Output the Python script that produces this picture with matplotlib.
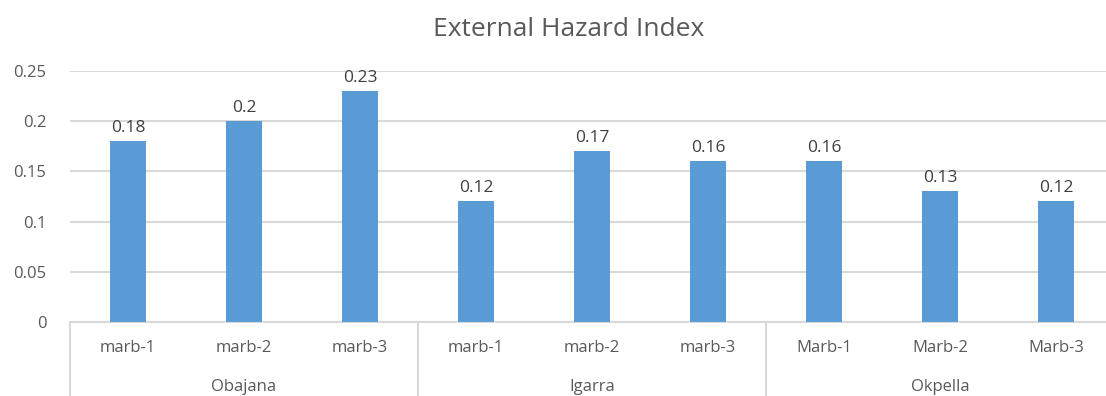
import matplotlib
matplotlib.use("Agg")
import matplotlib.pyplot as plt
import numpy as np

# samples per site
sites = ["Obajana", "Igarra", "Okpella"]
samples = ["marb-1", "marb-2", "marb-3",
           "marb-1", "marb-2", "marb-3",
           "Marb-1", "Marb-2", "Marb-3"]
hex_values = [0.18, 0.2, 0.23, 0.12, 0.17, 0.16, 0.16, 0.13, 0.12]
value_labels = ["0.18", "0.2", "0.23", "0.12", "0.17", "0.16", "0.16", "0.13", "0.12"]

plt.rcParams['font.family'] = ['Open Sans', 'DejaVu Sans']
txt = "#595959"

fig = plt.figure(figsize=(11.06, 3.96), dpi=100)
# plot area runs a little past the right edge of the figure
ax = fig.add_axes([0.0633, 0.187, 0.944, 0.634])

x = np.arange(len(samples))
ax.bar(x, hex_values, width=0.31, color="#5B9BD5", zorder=3)
for xi, v, lab in zip(x, hex_values, value_labels):
    ax.text(xi, v + 0.005, lab, ha="center", va="bottom", fontsize=12.5, color="#404040")

ax.set_xlim(-0.5, len(samples) - 0.5)
ax.set_ylim(0, 0.25)
ax.set_yticks([0, 0.05, 0.1, 0.15, 0.2, 0.25])
ax.set_yticklabels(["0", "0.05", "0.1", "0.15", "0.2", "0.25"])
ax.yaxis.grid(True, color="#d9d9d9", linewidth=1.5, zorder=0)
ax.tick_params(axis="y", length=0, labelsize=12, labelcolor=txt, pad=17)
ax.set_xticks([])
for s in ["top", "right", "left"]:
    ax.spines[s].set_visible(False)
ax.spines["bottom"].set_color("#d9d9d9")
ax.spines["bottom"].set_linewidth(1.5)

# category labels and site group labels
trans = ax.get_xaxis_transform()
for xi, s in zip(x, samples):
    ax.text(xi, -0.105, s, transform=trans, ha="center", va="center", fontsize=12, color=txt)
for i, site in enumerate(sites):
    ax.text(3 * i + 1, -0.26, site, transform=trans, ha="center", va="center", fontsize=12, color=txt)
for b in [-0.5, 2.5, 5.5, 8.5]:
    ax.plot([b, b], [0, -0.3], transform=trans, color="#d9d9d9", linewidth=1.5, clip_on=False)

fig.text(0.514, 0.925, "External Hazard Index", ha="center", va="center", fontsize=19, color=txt)

fig.savefig("out.png", dpi=100)
